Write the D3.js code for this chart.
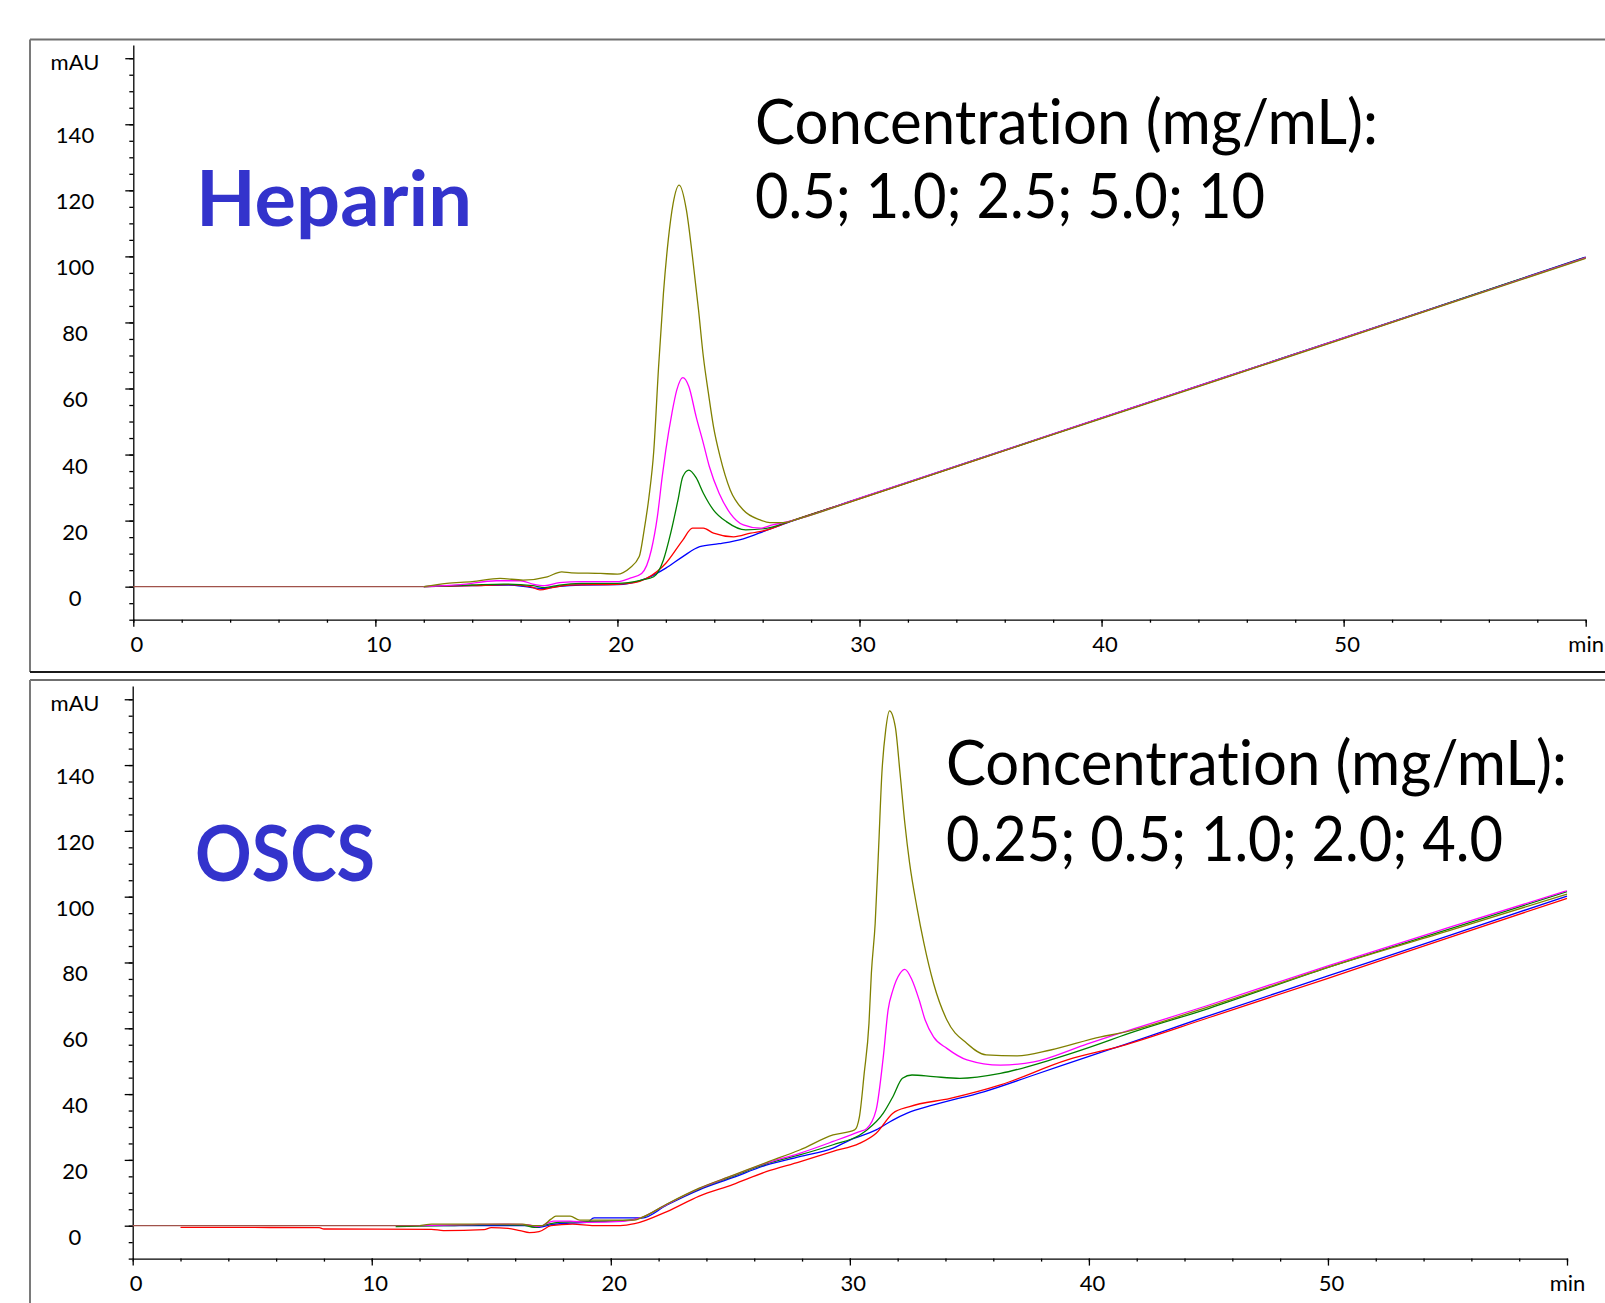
<!DOCTYPE html>
<html>
<head>
<meta charset="utf-8">
<script src="https://cdn.jsdelivr.net/npm/d3@7"></script>
<style>
	html, body { margin:0; padding:0; background:#fff; overflow:hidden; }
	svg { display:block; font-family: Lato, "Open Sans", sans-serif; }
	svg text { font-variant-ligatures: none; font-feature-settings: "liga" 0, "clig" 0, "dlig" 0; }
</style>
</head>
<body>
<div id="chart"></div>
<script>
// Heparin traces, [time (min), absorbance (mAU)]
var heparinBlue = [[12,0],[14,0.3],[15.5,0.5],[16.4,-0.2],[16.9,-0.6],[17.5,0],[18.5,0.5],[20,0.6],[20.5,1],[21.2,2.5],[22,5.6],[22.7,9.1],[23.4,12.1],[24.2,13],[25.2,14.5],[26.2,17.2],[27,19.3],[30,26.7],[35,38.9],[40,51.1],[45,63.2],[50,75.3],[55,87.5],[60,99.8]];
var heparinRed = [[12,0],[14,0.3],[15.5,0.6],[16.4,0],[16.8,-1],[17.3,-0.3],[18,0.5],[20,0.7],[20.7,1.2],[21.2,2.5],[22,7.1],[22.7,14.1],[23.1,17.7],[23.55,17.7],[23.97,16.2],[24.8,15.1],[25.5,16.2],[26.2,17.2],[27,19.4],[30,26.6],[35,38.8],[40,51],[45,63.1],[50,75.2],[55,87.4],[60,99.6]];
var heparinGreen = [[12,0],[14,0.5],[15.3,0.8],[16.5,0.3],[17,-0.3],[17.6,0.5],[18.5,1],[20,1],[21,2],[21.5,3],[21.9,8.1],[22.2,16.2],[22.5,26.2],[22.7,33.3],[22.95,35.3],[23.25,33],[23.55,28.3],[23.97,23.2],[24.5,19.7],[25.3,17.2],[26.2,17.7],[27,19.5],[30,26.7],[35,38.9],[40,51],[45,63.2],[50,75.3],[55,87.5],[60,99.7]];
var heparinMagenta = [[12,0],[13.5,0.6],[15,1.8],[16,1.8],[16.5,0.8],[17,0.3],[17.6,1.2],[18.5,1.5],[20,1.5],[20.5,2.5],[21,4],[21.4,11.1],[21.65,21.2],[21.85,33.3],[22,41.4],[22.25,52.5],[22.45,59.5],[22.7,63.3],[22.95,60.6],[23.25,51.5],[23.55,43.4],[23.8,36.3],[24.2,28.3],[24.66,22.2],[25.2,18.7],[25.9,17.7],[26.4,18.7],[27,19.6],[30,26.8],[35,38.9],[40,51.1],[45,63.2],[50,75.3],[55,87.4],[60,99.6]];
var heparinOlive = [[12,0],[12.95,1],[14,1.5],[15.15,2.5],[16.1,2],[17.1,3],[17.7,4.5],[18.1,4.2],[19.3,4],[20,3.8],[20.5,5.6],[20.9,9.1],[21.1,17],[21.3,27],[21.5,41],[21.7,66.6],[21.9,88.8],[22.1,105],[22.3,116],[22.55,121.6],[22.85,114],[23.1,99.9],[23.35,83.8],[23.55,69.6],[23.76,58.5],[23.97,48.4],[24.24,39.4],[24.66,29.3],[25.2,23.2],[25.9,20.2],[26.3,19.4],[26.86,19.4],[27.55,20.7],[30,26.6],[35,38.8],[40,50.9],[45,63],[50,75.1],[55,87.3],[60,99.4]];
var heparinBlank = [[0,0],[12,0]];

// OSCS traces
var oscsBlue = [[12,0],[16.5,0],[17,-0.5],[17.5,0.3],[18.3,0.8],[19,1],[19.3,2.4],[21,2.4],[21.3,2.3],[22.35,6.3],[23.7,10.9],[25.1,14.6],[26.5,18.4],[27.9,21],[29.3,23.6],[30,26],[31.1,29.1],[31.8,32.1],[32.4,34.2],[33.5,36.7],[35.6,40.7],[37.7,45.8],[40.5,52.7],[41.3,54.6],[45,63.8],[50,75.9],[55,88],[60,100.2]];
var oscsRed = [[2,-0.5],[7.8,-0.6],[8,-1],[12.5,-1.1],[13,-1.5],[14.7,-1.2],[15,-0.6],[15.7,-0.8],[16.2,-1.5],[16.6,-2.1],[17,-1.8],[17.5,0],[18.4,0.5],[19.3,0],[20.4,0],[21,0.6],[22.35,4.3],[23.7,9],[25.1,12.5],[26.5,16.4],[27.9,19.4],[29.3,22.6],[30.4,25],[31.1,28.1],[31.8,34.2],[32.5,36.2],[34.2,38.7],[36.3,42.8],[39.1,50.4],[41.3,54.5],[45,63.2],[50,75.2],[55,87.4],[60,99.5]];
var oscsGreen = [[11,-0.3],[13,0],[15,0.3],[16.3,0.2],[16.8,-0.5],[17.3,0.3],[17.8,1],[18.5,1.2],[20.5,1.5],[21.2,2.2],[22.35,6.5],[23.7,11.2],[25.1,15],[26.5,18.8],[27.9,21.5],[29.3,24.6],[30.4,27.5],[30.7,29],[31.4,34.2],[31.8,39.2],[32.2,44.8],[32.6,45.8],[33.5,45.3],[34.6,44.8],[36.3,46.3],[38.4,50.4],[40.5,55.4],[41.3,57.5],[45,66],[50,78.5],[55,90],[60,101.5]];
var oscsMagenta = [[12,0],[14,0.3],[15.5,0.5],[16.5,0.3],[17,-0.2],[17.6,1.4],[18.3,1.4],[19,1],[20.5,1.3],[21.2,2.3],[22.35,6.5],[23.7,11.3],[25.1,15.2],[26.5,19],[27.9,22],[29.3,25.6],[30.4,28.6],[30.7,29.5],[31.1,35.2],[31.4,51.4],[31.6,65.6],[31.8,71.6],[32.1,76.7],[32.3,77.9],[32.6,74.7],[32.9,68.6],[33.15,62.5],[33.5,57.4],[34.06,53.9],[34.9,50.4],[36.3,48.8],[37.7,49.8],[39.8,54.9],[41.3,58.5],[45,67],[50,79],[55,90.5],[60,101.8]];
var oscsOlive = [[12,0],[12.5,0.5],[16.3,0.5],[16.7,0],[17.1,0],[17.5,2],[17.7,2.9],[18.3,2.9],[18.7,1.7],[21,1.7],[21.3,2.5],[22.35,6.6],[23.7,11.4],[25.1,15.3],[26.5,19.2],[27.9,23],[29.3,27.6],[30.2,29.1],[30.4,33.1],[30.6,46.3],[30.8,61.5],[30.9,76.7],[31.06,91.9],[31.2,114.2],[31.34,137.5],[31.5,150.7],[31.66,156.5],[31.9,151.7],[32.1,137.5],[32.3,122.3],[32.5,110.2],[32.8,97],[33.1,85.8],[33.5,73.7],[34.06,62.5],[34.9,55.4],[35.7,51.9],[37,51.6],[38.4,53.4],[40.5,57.4],[41.3,58.5],[45,66.5],[50,78.5],[55,89.5],[60,100.8]];
var oscsBlank = [[0,0],[12,0]];

var seriesColors = ["#0000ff", "#ff0000", "#008000", "#ff00ff", "#808000", "#a0524a"];
var xMajorTicks = [0, 10, 20, 30, 40, 50, 60];
var yMajorTicks = [0, 20, 40, 60, 80, 100, 120, 140, 160];

var panels = [
	{
		name: "Heparin",
		concLines: ["Concentration (mg/mL):", "0.5; 1.0; 2.5; 5.0; 10"],
		series: [heparinBlue, heparinRed, heparinGreen, heparinMagenta, heparinOlive, heparinBlank],
		xRange: [133.3, 1585.7], yRange: [619.7, 45.0],
		title: {x:196, y:225.5, w:276},
		conc: {x:755, y:[143.5, 218], w:[623, 510]},
		box: {top:39.5, bottom:672}
	},
	{
		name: "OSCS",
		concLines: ["Concentration (mg/mL):", "0.25; 0.5; 1.0; 2.0; 4.0"],
		series: [oscsBlue, oscsRed, oscsGreen, oscsMagenta, oscsOlive, oscsBlank],
		xRange: [132.7, 1567], yRange: [1258.6, 686.1],
		title: {x:195, y:881, w:180},
		conc: {x:946, y:[785, 861], w:[621, 557]},
		box: {top:680, bottom:1320}
	}
];

var W = 1605, H = 1303;
var svg = d3.select("#chart").append("svg")
	.attr("width", W)
	.attr("height", H);

function fitText(sel, w){
	var len = sel.node().getComputedTextLength();
	if(Math.abs(len - w) > 1){
		sel.attr("textLength", w).attr("lengthAdjust", "spacingAndGlyphs");
	}
}

panels.forEach(function(p){
	var x = d3.scaleLinear().domain([0, 60]).range(p.xRange);
	var y = d3.scaleLinear().domain([-10, 164]).range(p.yRange);
	var g = svg.append("g").attr("class", "panel");

	// frame round the panel
	g.append("line").attr("x1", 30).attr("x2", W).attr("y1", p.box.top).attr("y2", p.box.top)
		.attr("stroke", "#6f6f6f").attr("stroke-width", 2);
	g.append("line").attr("x1", 30).attr("x2", 30).attr("y1", p.box.top).attr("y2", p.box.bottom)
		.attr("stroke", "#7a7a7a").attr("stroke-width", 2);
	g.append("line").attr("x1", 30).attr("x2", W).attr("y1", p.box.bottom).attr("y2", p.box.bottom)
		.attr("stroke", "#1a1a1a").attr("stroke-width", 2);

	var y0 = y.range()[0];
	var x0 = x.range()[0];

	// y axis: minor ticks then major ticks with labels
	g.append("g").attr("transform", "translate(" + x0 + ",0)")
		.call(d3.axisLeft(y).tickValues(d3.range(-10, 161, 5)).tickSize(4).tickSizeOuter(0).tickFormat(""));
	var yAxis = g.append("g").attr("transform", "translate(" + x0 + ",0)")
		.call(d3.axisLeft(y).tickValues(yMajorTicks).tickSize(8).tickSizeOuter(0)
			.tickFormat(function(d){ return d === 160 ? "mAU" : d; }));
	yAxis.select(".domain").remove();
	yAxis.selectAll("text")
		.attr("text-anchor", "middle")
		.attr("x", 75 - x0)
		.attr("dy", null)
		.attr("y", function(d){ return d === 160 ? 11.5 : 18.5; })
		.attr("font-size", "22px")
		.attr("font-family", "Lato, sans-serif")
		.attr("fill", "#000");

	// x axis
	g.append("g").attr("transform", "translate(0," + y0 + ")")
		.call(d3.axisBottom(x).tickValues(d3.range(0, 61, 2)).tickSize(3).tickSizeOuter(0).tickFormat(""));
	var xAxis = g.append("g").attr("transform", "translate(0," + y0 + ")")
		.call(d3.axisBottom(x).tickValues(xMajorTicks).tickSize(7).tickSizeOuter(0)
			.tickFormat(function(d){ return d === 60 ? "min" : d; }));
	xAxis.select(".domain").remove();
	xAxis.selectAll("text")
		.attr("dy", null)
		.attr("y", 32)
		.attr("x", function(d){ return d === 60 ? 0 : 3; })
		.attr("font-size", "22px")
		.attr("font-family", "Lato, sans-serif")
		.attr("fill", "#000");

	svg.selectAll(".domain, .tick line").attr("stroke", "#000").attr("stroke-width", 1.3);

	// traces
	var line = d3.line()
		.x(function(d){ return x(d[0]); })
		.y(function(d){ return y(d[1]); })
		.curve(d3.curveMonotoneX);
	g.selectAll("path.trace")
		.data(p.series)
		.enter()
		.append("path")
		.attr("class", "trace")
		.attr("fill", "none")
		.attr("stroke", function(d, i){ return seriesColors[i]; })
		.attr("stroke-width", 1.3)
		.attr("d", line);

	// sample name
	var t = g.append("text")
		.attr("x", p.title.x)
		.attr("y", p.title.y)
		.attr("font-size", "77px")
		.attr("font-weight", "bold")
		.attr("fill", "#3333cc")
		.text(p.name);
	fitText(t, p.title.w);

	// concentration note
	p.concLines.forEach(function(s, i){
		var c = g.append("text")
			.attr("x", p.conc.x)
			.attr("y", p.conc.y[i])
			.attr("font-size", "61px")
			.attr("fill", "#000")
			.text(s);
		fitText(c, p.conc.w[i]);
	});
});
</script>
</body>
</html>
